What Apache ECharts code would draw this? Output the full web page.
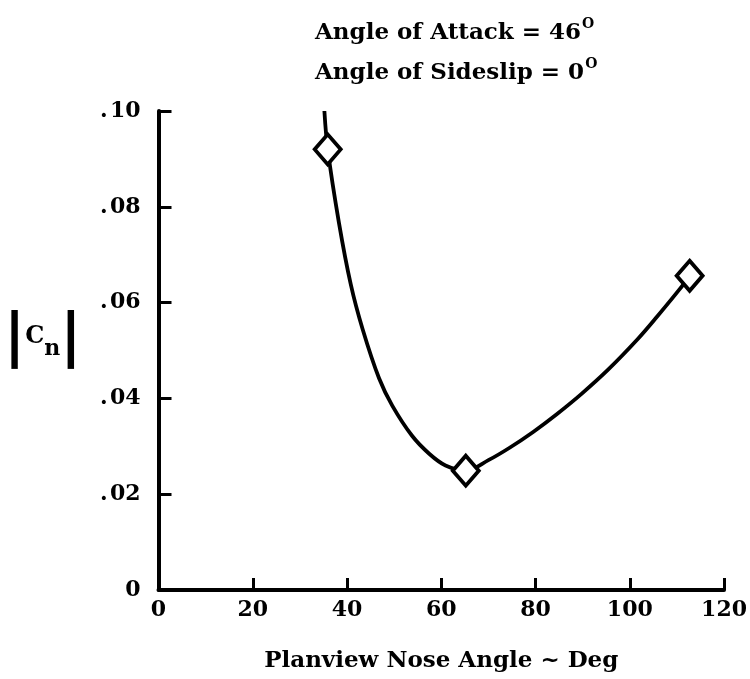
<!DOCTYPE html>
<html>
<head>
<meta charset="utf-8">
<script src="https://cdn.jsdelivr.net/npm/echarts@6/dist/echarts.min.js"></script>
<style>
html,body{margin:0;padding:0;background:#fff;}
#chart{width:750px;height:679px;}
</style>
</head>
<body>
<div id="chart"></div>
<script>
// Measured points (planview nose angle, |Cn|)
const pointX = [35.9, 65.2, 112.7];
const pointY = [0.0920, 0.0249, 0.0656];

// Faired curve
const curveX = [35.2, 35.9, 38.3, 40.8, 43.3, 46.8, 49.6, 53.8, 57.5, 60.9, 65.2, 70.0, 74.5, 79.5, 84.5, 89.7, 95.4, 101.7, 105.9, 110.5, 112.7];
const curveY = [0.1000, 0.0920, 0.0766, 0.0638, 0.0545, 0.0442, 0.0385, 0.0322, 0.0284, 0.0260, 0.0249, 0.0271, 0.0297, 0.0330, 0.0367, 0.0409, 0.0460, 0.0524, 0.0572, 0.0627, 0.0656];

const xTicks = [0, 20, 40, 60, 80, 100, 120];
const yTickLabels = {0: '0', 0.02: '.\u200A02', 0.04: '.\u200A04', 0.06: '.\u200A06', 0.08: '.\u200A08', 0.1: '.\u200A10'};

const titleLine1 = 'Angle of Attack = 46';
const titleLine2 = 'Angle of Sideslip = 0';
const xName = 'Planview Nose Angle ~ Deg';

const FONT = 'DejaVu Serif';

const chart = echarts.init(document.getElementById('chart'), null, {renderer: 'canvas'});

const curveData = curveX.map((x, i) => [x, curveY[i]]);
const pointData = pointX.map((x, i) => [x, pointY[i]]);

const option = {
  backgroundColor: '#fff',
  animation: false,
  grid: {left: 158.5, right: 23, top: 111, bottom: 89, containLabel: false},
  title: {
    left: 310, top: 8,
    text: '{t|' + titleLine1 + '}{s|O}\n{t|' + titleLine2 + '}{s|O}',
    textStyle: {
      rich: {
        t: {fontFamily: FONT, fontWeight: 'bold', fontSize: 23, color: '#000', lineHeight: 40},
        s: {fontFamily: FONT, fontWeight: 'bold', fontSize: 14, color: '#000', lineHeight: 40, verticalAlign: 'top', padding: [4, 0, 0, 1]}
      }
    }
  },
  graphic: [{
    type: 'text',
    left: 4, top: 311,
    style: {
      text: '{b||}{c|C}{n|n}{b||}',
      rich: {
        b: {fontFamily: 'DejaVu Sans', fontWeight: 'bold', fontSize: 58, fill: '#000', lineHeight: 70},
        c: {fontFamily: FONT, fontWeight: 'bold', fontSize: 24, fill: '#000', lineHeight: 70, padding: [0, 0, 6, 0]},
        n: {fontFamily: FONT, fontWeight: 'bold', fontSize: 22, fill: '#000', lineHeight: 70, padding: [18, 0, 0, 0]}
      }
    }
  }],
  xAxis: {
    type: 'value', min: 0, max: 120, interval: 20,
    name: xName, nameLocation: 'middle', nameGap: 60,
    nameTextStyle: {fontFamily: FONT, fontWeight: 'bold', fontSize: 23, color: '#000'},
    axisLine: {show: true, onZero: false, lineStyle: {color: '#000', width: 4}},
    axisTick: {show: true, inside: true, length: 12, lineStyle: {color: '#000', width: 3}},
    axisLabel: {fontFamily: FONT, fontWeight: 'bold', fontSize: 22, color: '#000', margin: 9,
      formatter: v => xTicks.includes(v) ? String(v) : ''},
    splitLine: {show: false}
  },
  yAxis: {
    type: 'value', min: 0, max: 0.1, interval: 0.02,
    axisLine: {show: true, onZero: false, lineStyle: {color: '#000', width: 4}},
    axisTick: {show: true, inside: true, length: 13, lineStyle: {color: '#000', width: 3}},
    axisLabel: {fontFamily: FONT, fontWeight: 'bold', fontSize: 22, color: '#000', margin: 18,
      formatter: v => {
        const k = Math.round(v * 100) / 100;
        return yTickLabels[k] !== undefined ? yTickLabels[k] : '';
      }},
    splitLine: {show: false}
  },
  series: [
    {
      type: 'line', data: curveData, smooth: 0.35, showSymbol: false, symbol: 'none',
      lineStyle: {color: '#000', width: 3.8}, z: 2, clip: false
    },
    {
      type: 'scatter', data: pointData, symbol: 'diamond', symbolSize: [26, 30],
      itemStyle: {color: '#fff', borderColor: '#000', borderWidth: 3.8, opacity: 1}, z: 3
    }
  ]
};
chart.setOption(option);
</script>
</body>
</html>
